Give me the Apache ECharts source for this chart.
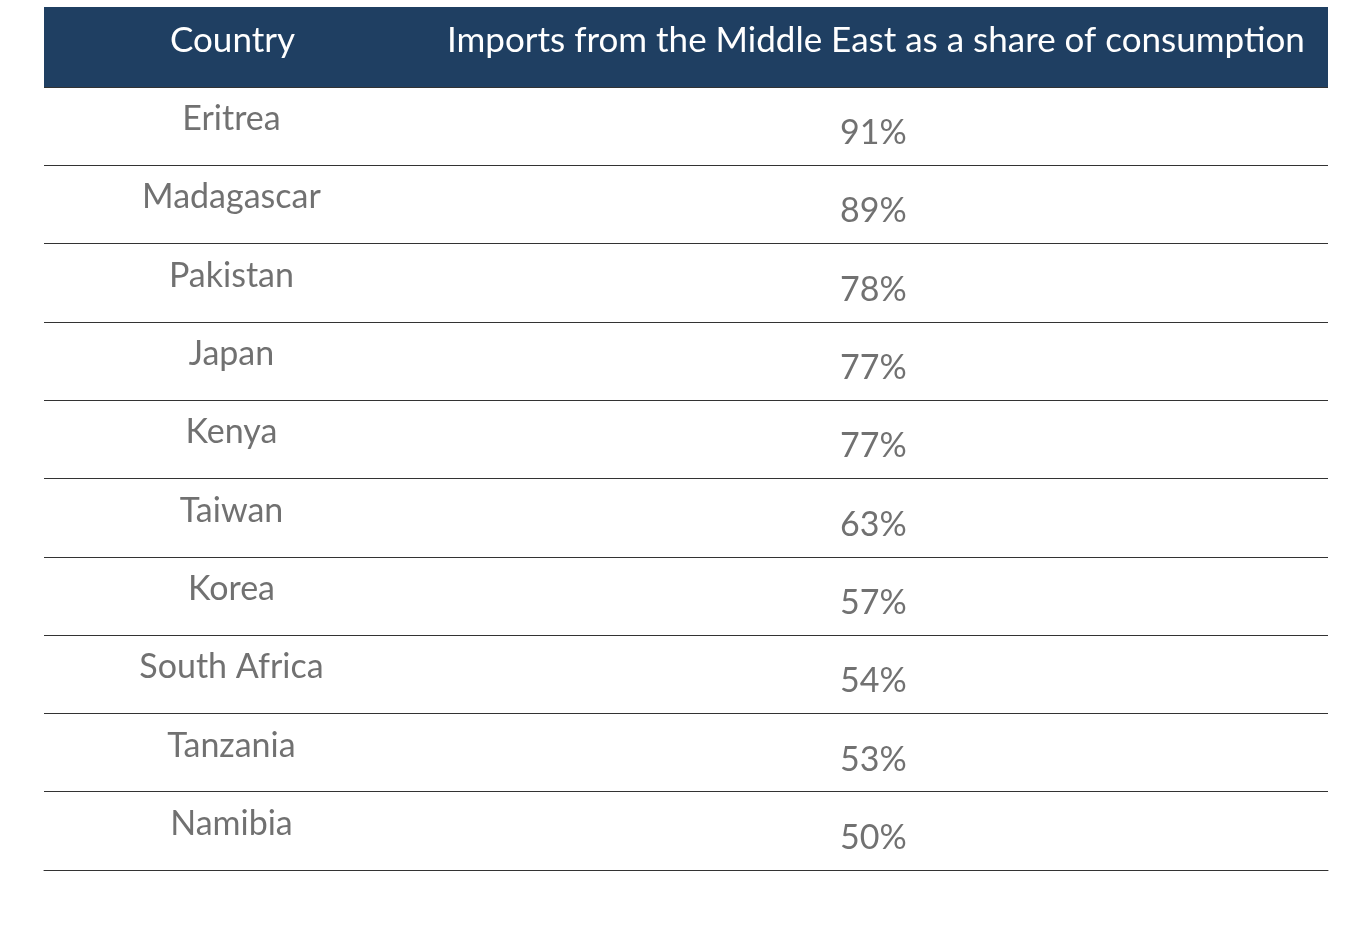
<!DOCTYPE html>
<html>
<head>
<meta charset="utf-8">
<script src="https://cdn.jsdelivr.net/npm/echarts@6/dist/echarts.min.js"></script>
<style>
  html, body { margin: 0; padding: 0; background: #fff; }
  #chart { width: 1346px; height: 926px; }
</style>
</head>
<body>
<div id="chart"></div>
<script>
const countries = ["Eritrea", "Madagascar", "Pakistan", "Japan", "Kenya", "Taiwan", "Korea", "South Africa", "Tanzania", "Namibia"];
const shares = [91, 89, 78, 77, 77, 63, 57, 54, 53, 50];
const headers = ["Country", "Imports from the Middle East as a share of consumption"];

const chart = echarts.init(document.getElementById("chart"));
const font = "Lato, 'Open Sans', sans-serif";
const textColor = "#4d4d4d";

chart.setOption({
  animation: false,
  grid: { left: 44, right: 18, top: 87, bottom: 56 },
  xAxis: {
    type: "value", min: 0, max: 100,
    axisLine: { show: true, onZero: false, lineStyle: { color: "#333", width: 1 } },
    axisTick: { show: false }, axisLabel: { show: false }, splitLine: { show: false },
  },
  yAxis: {
    type: "category", data: countries, inverse: true, boundaryGap: true,
    axisLine: { show: false }, axisTick: { show: false }, axisLabel: { show: false },
    splitLine: { show: true, lineStyle: { color: "#333", width: 1 } },
  },
  graphic: [
    { type: "rect", left: 44, top: 7, shape: { width: 1284, height: 80 }, style: { fill: "#1f3f62" } },
    { type: "text", left: 170, top: 23, style: { text: headers[0], fill: "#fff", font: "35px " + font } },
    { type: "text", left: 447, top: 23, style: { text: headers[1], fill: "#fff", font: "35px " + font } },
  ],
  series: [
    {
      type: "scatter", symbolSize: 0,
      data: countries.map((c) => [14.6, c]),
      label: {
        show: true, position: "inside", offset: [0, -7],
        formatter: (p) => p.data[1], color: textColor, fontSize: 34, fontFamily: font,
      },
    },
    {
      type: "scatter", symbolSize: 0,
      data: countries.map((c, i) => [64.6, c, shares[i]]),
      label: {
        show: true, position: "inside", offset: [0, 7],
        formatter: (p) => p.data[2] + "%", color: textColor, fontSize: 34, fontFamily: font,
      },
    },
  ],
});
</script>
</body>
</html>
